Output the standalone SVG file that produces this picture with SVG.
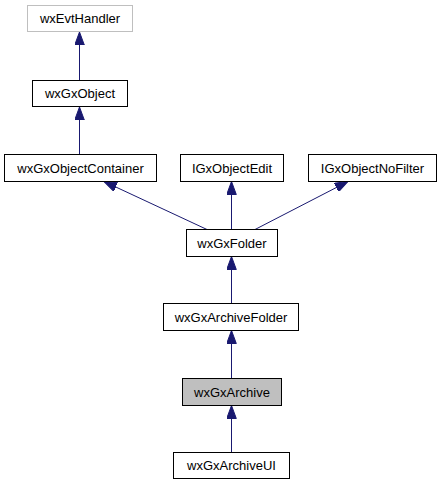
<svg xmlns="http://www.w3.org/2000/svg" width="440" height="485" viewBox="0 0 440 485">
<style>
.n rect{fill:#ffffff;stroke:#000000;stroke-width:1}
.n text{font-family:"Liberation Sans",Arial,sans-serif;font-size:13px;fill:#000000;text-anchor:middle}
#n_evt rect{stroke:#bfbfbf}
#n_archive rect{fill:#bfbfbf}
.e line{stroke:#191970;stroke-width:1;marker-end:url(#ah)}
</style>
<defs>
<marker id="ah" markerUnits="userSpaceOnUse" markerWidth="14" markerHeight="10" viewBox="0 -5 14 10" refX="13" refY="0" orient="auto">
<path d="M0,-4.8 L13,0 L0,4.8 z" fill="#191970" stroke="#191970" stroke-width="1"/>
</marker>
</defs>
<rect width="440" height="485" fill="#ffffff"/>
<g id="edges" class="e">
<line x1="79.5" y1="80" x2="79.5" y2="32"/>
<line x1="79.5" y1="154" x2="79.5" y2="107"/>
<line x1="207" y1="229.5" x2="104" y2="181.5"/>
<line x1="231.5" y1="229.5" x2="231.5" y2="181.5"/>
<line x1="255" y1="229.5" x2="348" y2="181.5"/>
<line x1="231.5" y1="303.5" x2="231.5" y2="256.5"/>
<line x1="231.5" y1="378.5" x2="231.5" y2="330.5"/>
<line x1="231.5" y1="452.5" x2="231.5" y2="405.5"/>
</g>
<g id="n_evt" class="n"><rect x="27.5" y="5.5" width="105" height="26"/><text x="80" y="23">wxEvtHandler</text></g>
<g id="n_obj" class="n"><rect x="32.5" y="80.5" width="95" height="26"/><text x="80" y="98">wxGxObject</text></g>
<g id="n_cont" class="n"><rect x="4.5" y="154.5" width="152" height="27"/><text x="80.5" y="172.5">wxGxObjectContainer</text></g>
<g id="n_edit" class="n"><rect x="180.5" y="154.5" width="103" height="27"/><text x="232" y="172.5">IGxObjectEdit</text></g>
<g id="n_nofilter" class="n"><rect x="308.5" y="154.5" width="128" height="27"/><text x="372.5" y="172.5">IGxObjectNoFilter</text></g>
<g id="n_folder" class="n"><rect x="186.5" y="229.5" width="91" height="27"/><text x="232" y="247.5">wxGxFolder</text></g>
<g id="n_afolder" class="n"><rect x="163.5" y="303.5" width="135" height="27"/><text x="231" y="321.5">wxGxArchiveFolder</text></g>
<g id="n_archive" class="n"><rect x="182.5" y="378.5" width="99" height="27"/><text x="232" y="396.5">wxGxArchive</text></g>
<g id="n_archiveui" class="n"><rect x="173.5" y="452.5" width="116" height="26"/><text x="231.5" y="470">wxGxArchiveUI</text></g>
</svg>
